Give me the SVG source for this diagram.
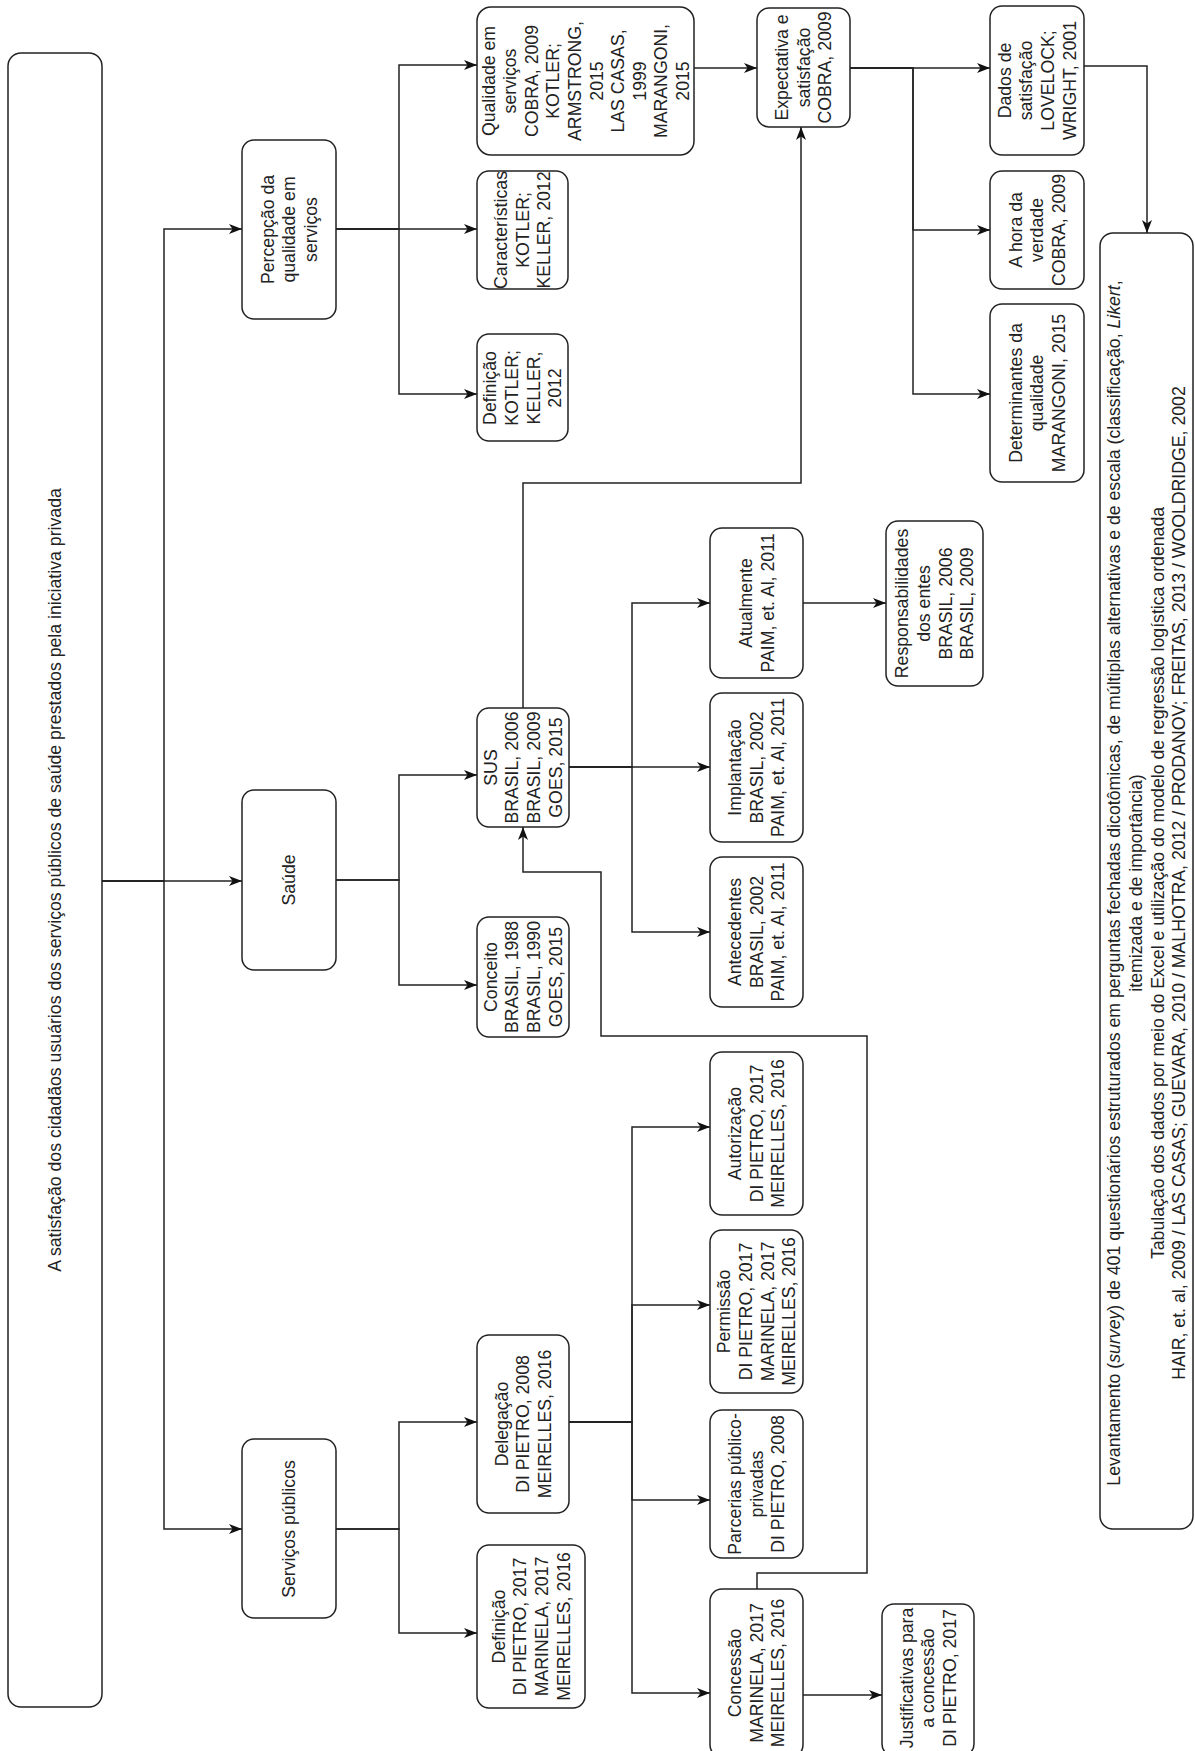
<svg xmlns="http://www.w3.org/2000/svg" width="1195" height="1751" viewBox="0 0 1195 1751">
<style>
.box{fill:#fff;stroke:#222;stroke-width:1.5}
.t{font-family:"Liberation Sans",Arial,sans-serif;font-size:17.7px;fill:#222;text-anchor:middle}
.c{fill:none;stroke:#222;stroke-width:1.5}
.a{marker-end:url(#arr)}
.i{font-style:italic}
</style>
<defs>
<marker id="arr" markerUnits="userSpaceOnUse" markerWidth="14" markerHeight="12" viewBox="0 0 14 12" refX="13" refY="6" orient="auto">
<path d="M0,1 L13,6 L0,11 L3.5,6 Z" fill="#111"/>
</marker>
</defs>
<rect width="1195" height="1751" fill="#fff"/>

<g id="connectors">
<path class="c a" d="M102,881 H164 V229 H242"/>
<path class="c a" d="M102,881 H242"/>
<path class="c a" d="M102,881 H164 V1529 H242"/>
<path class="c a" d="M336,229 H399 V65 H477"/>
<path class="c a" d="M336,229 H477"/>
<path class="c a" d="M336,229 H399 V394 H477"/>
<path class="c a" d="M694,68 H757"/>
<path class="c a" d="M850,68 H990"/>
<path class="c a" d="M850,68 H913 V230 H990"/>
<path class="c a" d="M850,68 H913 V394 H990"/>
<path class="c a" d="M1084,66 H1147 V233"/>
<path class="c a" d="M336,880 H399 V775 H477"/>
<path class="c a" d="M336,880 H399 V985 H477"/>
<path class="c a" d="M569,767 H632 V603 H710"/>
<path class="c a" d="M569,767 H710"/>
<path class="c a" d="M569,767 H632 V932 H710"/>
<path class="c a" d="M523,708 V483 H801 V127"/>
<path class="c a" d="M803,603 H886"/>
<path class="c a" d="M757,1589 V1573 H867 V1036 H601 V872 H523 V827"/>
<path class="c a" d="M336,1529 H399 V1422 H477"/>
<path class="c a" d="M336,1529 H399 V1633 H477"/>
<path class="c a" d="M569,1422 H632 V1127 H710"/>
<path class="c a" d="M569,1422 H632 V1305 H710"/>
<path class="c a" d="M569,1422 H632 V1500 H710"/>
<path class="c a" d="M569,1422 H632 V1693 H710"/>
<path class="c a" d="M803,1695 H882"/>
</g>

<g id="root">
<rect class="box" x="8" y="53" width="94" height="1654" rx="13"/>
<text class="t" transform="translate(55 880) rotate(-90)"><tspan x="0" y="6.2">A satisfação dos cidadãos usuários dos serviços públicos de saúde prestados pela iniciativa privada</tspan></text>
</g>

<g id="percepcao">
<rect class="box" x="242" y="140" width="94" height="179" rx="12"/>
<text class="t" transform="translate(289 229.5) rotate(-90)"><tspan x="0" y="-15.4">Percepção da</tspan><tspan x="0" y="6.2">qualidade em</tspan><tspan x="0" y="27.8">serviços</tspan></text>
</g>

<g id="saude">
<rect class="box" x="242" y="790" width="94" height="180" rx="12"/>
<text class="t" transform="translate(289 880) rotate(-90)"><tspan x="0" y="6.2">Saúde</tspan></text>
</g>

<g id="servicos">
<rect class="box" x="242" y="1439" width="94" height="179" rx="12"/>
<text class="t" transform="translate(289 1529) rotate(-90)"><tspan x="0" y="6.2">Serviços públicos</tspan></text>
</g>

<g id="qualidade">
<rect class="box" x="477" y="7" width="217" height="148" rx="14"/>
<text class="t" transform="translate(585.5 81) rotate(-90)"><tspan x="0" y="-91">Qualidade em</tspan><tspan x="0" y="-69.4">serviços</tspan><tspan x="0" y="-47.8">COBRA, 2009</tspan><tspan x="0" y="-26.2">KOTLER;</tspan><tspan x="0" y="-4.6">ARMSTRONG,</tspan><tspan x="0" y="17">2015</tspan><tspan x="0" y="38.6">LAS CASAS,</tspan><tspan x="0" y="60.2">1999</tspan><tspan x="0" y="81.8">MARANGONI,</tspan><tspan x="0" y="103.4">2015</tspan></text>
</g>

<g id="caracteristicas">
<rect class="box" x="477" y="171" width="91" height="118" rx="12"/>
<text class="t" transform="translate(522.5 230) rotate(-90)"><tspan x="0" y="-15.4">Características</tspan><tspan x="0" y="6.2">KOTLER;</tspan><tspan x="0" y="27.8">KELLER, 2012</tspan></text>
</g>

<g id="definicao-percepcao">
<rect class="box" x="477" y="334" width="91" height="107" rx="12"/>
<text class="t" transform="translate(522.5 388) rotate(-90)"><tspan x="0" y="-26.2">Definição</tspan><tspan x="0" y="-4.6">KOTLER;</tspan><tspan x="0" y="17">KELLER,</tspan><tspan x="0" y="38.6">2012</tspan></text>
</g>

<g id="expectativa">
<rect class="box" x="757" y="8" width="93" height="119" rx="12"/>
<text class="t" transform="translate(803.5 67.5) rotate(-90)"><tspan x="0" y="-15.4">Expectativa e</tspan><tspan x="0" y="6.2">satisfação</tspan><tspan x="0" y="27.8">COBRA, 2009</tspan></text>
</g>

<g id="dados">
<rect class="box" x="990" y="6" width="94" height="149" rx="12"/>
<text class="t" transform="translate(1037 80.5) rotate(-90)"><tspan x="0" y="-26.2">Dados de</tspan><tspan x="0" y="-4.6">satisfação</tspan><tspan x="0" y="17">LOVELOCK;</tspan><tspan x="0" y="38.6">WRIGHT, 2001</tspan></text>
</g>

<g id="hora">
<rect class="box" x="990" y="171" width="94" height="118" rx="12"/>
<text class="t" transform="translate(1037 230) rotate(-90)"><tspan x="0" y="-15.4">A hora da</tspan><tspan x="0" y="6.2">verdade</tspan><tspan x="0" y="27.8">COBRA, 2009</tspan></text>
</g>

<g id="determinantes">
<rect class="box" x="990" y="304" width="94" height="178" rx="12"/>
<text class="t" transform="translate(1037 393) rotate(-90)"><tspan x="0" y="-15.4">Determinantes da</tspan><tspan x="0" y="6.2">qualidade</tspan><tspan x="0" y="27.8">MARANGONI, 2015</tspan></text>
</g>

<g id="levantamento">
<rect class="box" x="1100" y="233" width="93" height="1296" rx="13"/>
<text class="t" transform="translate(1146.5 883) rotate(-90)"><tspan x="0" y="-26.2">Levantamento (<tspan class="i">survey</tspan>) de 401 questionários estruturados em perguntas fechadas dicotômicas, de múltiplas alternativas e de escala (classificação, <tspan class="i">Likert</tspan>,</tspan><tspan x="0" y="-4.6">itemizada e de importância)</tspan><tspan x="0" y="17">Tabulação dos dados por meio do Excel e utilização do modelo de regressão logística ordenada</tspan><tspan x="0" y="38.6">HAIR, et. al, 2009 / LAS CASAS; GUEVARA, 2010 / MALHOTRA, 2012 / PRODANOV; FREITAS, 2013 / WOOLDRIDGE, 2002</tspan></text>
</g>

<g id="sus">
<rect class="box" x="477" y="708" width="92" height="119" rx="12"/>
<text class="t" transform="translate(523 767.5) rotate(-90)"><tspan x="0" y="-26.2">SUS</tspan><tspan x="0" y="-4.6">BRASIL, 2006</tspan><tspan x="0" y="17">BRASIL, 2009</tspan><tspan x="0" y="38.6">GOES, 2015</tspan></text>
</g>

<g id="conceito">
<rect class="box" x="477" y="917" width="92" height="120" rx="12"/>
<text class="t" transform="translate(523 977) rotate(-90)"><tspan x="0" y="-26.2">Conceito</tspan><tspan x="0" y="-4.6">BRASIL, 1988</tspan><tspan x="0" y="17">BRASIL, 1990</tspan><tspan x="0" y="38.6">GOES, 2015</tspan></text>
</g>

<g id="atualmente">
<rect class="box" x="710" y="528" width="93" height="150" rx="12"/>
<text class="t" transform="translate(756.5 603) rotate(-90)"><tspan x="0" y="-4.6">Atualmente</tspan><tspan x="0" y="17">PAIM, et. Al, 2011</tspan></text>
</g>

<g id="implantacao">
<rect class="box" x="710" y="693" width="93" height="149" rx="12"/>
<text class="t" transform="translate(756.5 767.5) rotate(-90)"><tspan x="0" y="-15.4">Implantação</tspan><tspan x="0" y="6.2">BRASIL, 2002</tspan><tspan x="0" y="27.8">PAIM, et. Al, 2011</tspan></text>
</g>

<g id="antecedentes">
<rect class="box" x="710" y="857" width="93" height="150" rx="12"/>
<text class="t" transform="translate(756.5 932) rotate(-90)"><tspan x="0" y="-15.4">Antecedentes</tspan><tspan x="0" y="6.2">BRASIL, 2002</tspan><tspan x="0" y="27.8">PAIM, et. Al, 2011</tspan></text>
</g>

<g id="responsabilidades">
<rect class="box" x="886" y="521" width="97" height="165" rx="12"/>
<text class="t" transform="translate(934.5 603.5) rotate(-90)"><tspan x="0" y="-26.2">Responsabilidades</tspan><tspan x="0" y="-4.6">dos entes</tspan><tspan x="0" y="17">BRASIL, 2006</tspan><tspan x="0" y="38.6">BRASIL, 2009</tspan></text>
</g>

<g id="autorizacao">
<rect class="box" x="710" y="1052" width="93" height="163" rx="12"/>
<text class="t" transform="translate(756.5 1133.5) rotate(-90)"><tspan x="0" y="-15.4">Autorização</tspan><tspan x="0" y="6.2">DI PIETRO, 2017</tspan><tspan x="0" y="27.8">MEIRELLES, 2016</tspan></text>
</g>

<g id="permissao">
<rect class="box" x="710" y="1230" width="93" height="163" rx="12"/>
<text class="t" transform="translate(756.5 1311.5) rotate(-90)"><tspan x="0" y="-26.2">Permissão</tspan><tspan x="0" y="-4.6">DI PIETRO, 2017</tspan><tspan x="0" y="17">MARINELA, 2017</tspan><tspan x="0" y="38.6">MEIRELLES, 2016</tspan></text>
</g>

<g id="parcerias">
<rect class="box" x="710" y="1410" width="93" height="148" rx="12"/>
<text class="t" transform="translate(756.5 1484) rotate(-90)"><tspan x="0" y="-15.4">Parcerias público-</tspan><tspan x="0" y="6.2">privadas</tspan><tspan x="0" y="27.8">DI PIETRO, 2008</tspan></text>
</g>

<g id="concessao">
<rect class="box" x="710" y="1589" width="93" height="168" rx="12"/>
<text class="t" transform="translate(756.5 1673) rotate(-90)"><tspan x="0" y="-15.4">Concessão</tspan><tspan x="0" y="6.2">MARINELA, 2017</tspan><tspan x="0" y="27.8">MEIRELLES, 2016</tspan></text>
</g>

<g id="justificativas">
<rect class="box" x="882" y="1604" width="92" height="152" rx="12"/>
<text class="t" transform="translate(928 1678) rotate(-90)"><tspan x="0" y="-15.4">Justificativas para</tspan><tspan x="0" y="6.2">a concessão</tspan><tspan x="0" y="27.8">DI PIETRO, 2017</tspan></text>
</g>

<g id="delegacao">
<rect class="box" x="477" y="1335" width="92" height="178" rx="12"/>
<text class="t" transform="translate(523 1424) rotate(-90)"><tspan x="0" y="-15.4">Delegação</tspan><tspan x="0" y="6.2">DI PIETRO, 2008</tspan><tspan x="0" y="27.8">MEIRELLES, 2016</tspan></text>
</g>

<g id="definicao-servicos">
<rect class="box" x="477" y="1545" width="108" height="163" rx="12"/>
<text class="t" transform="translate(531 1626.5) rotate(-90)"><tspan x="0" y="-26.2">Definição</tspan><tspan x="0" y="-4.6">DI PIETRO, 2017</tspan><tspan x="0" y="17">MARINELA, 2017</tspan><tspan x="0" y="38.6">MEIRELLES, 2016</tspan></text>
</g>
</svg>
